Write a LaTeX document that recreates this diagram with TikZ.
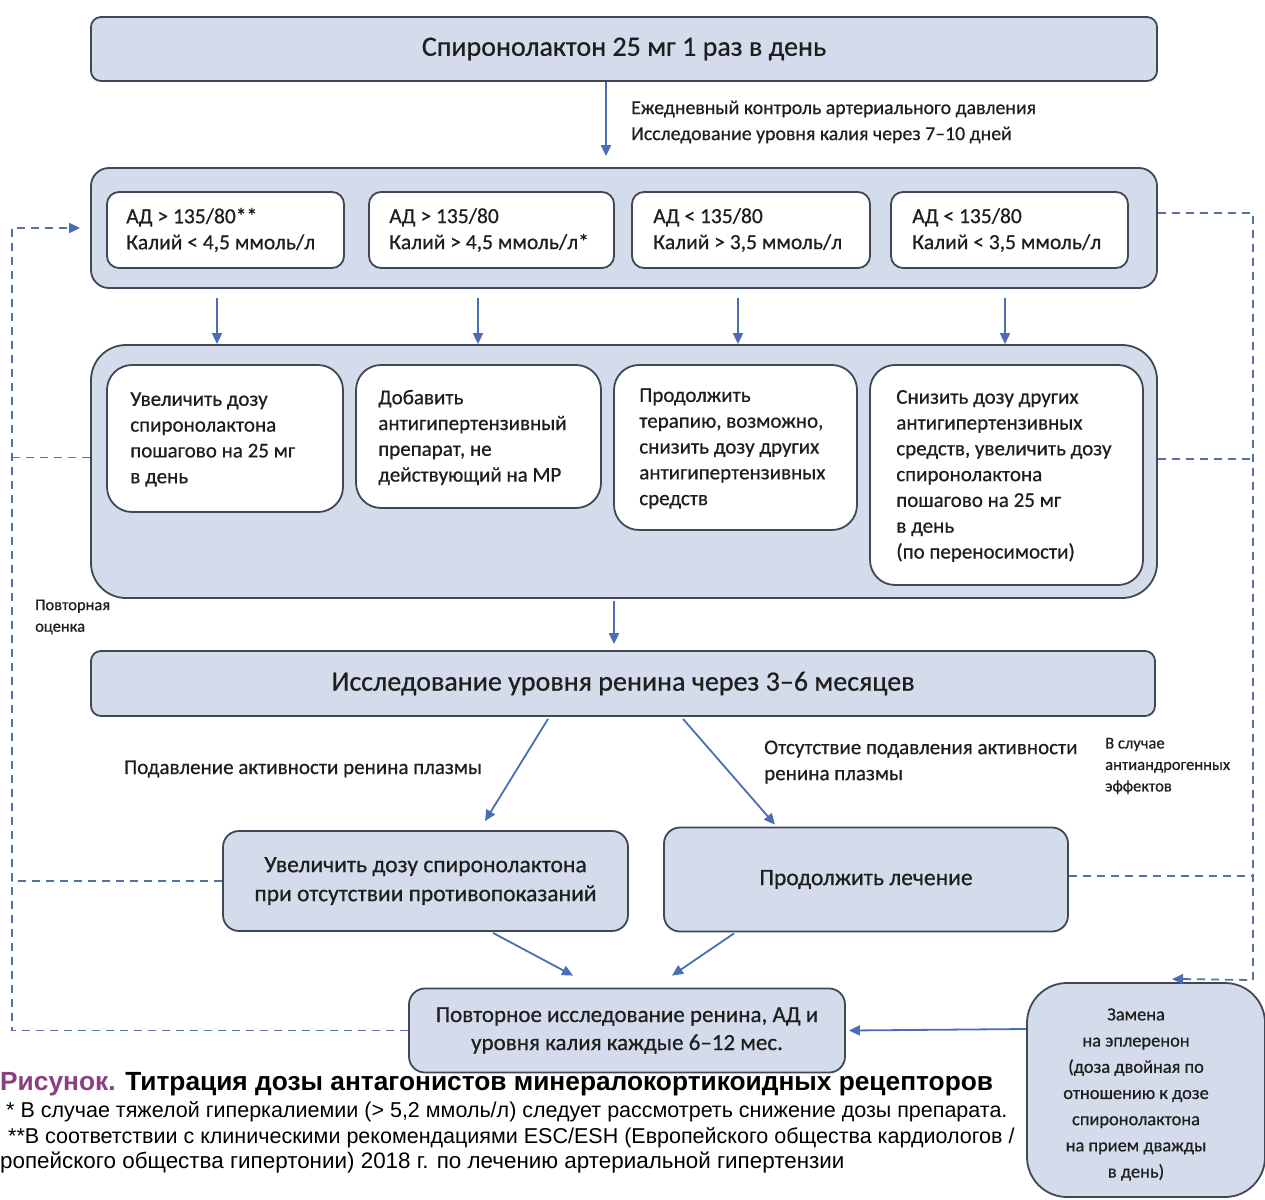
\documentclass[tikz,border=0pt]{standalone}
\usepackage{fontspec}
\setmainfont{Carlito}[FakeBold=0.6]
\newfontfamily\capfont{Liberation Sans}
\usetikzlibrary{arrows.meta}
\definecolor{boxfill}{HTML}{D4DCEB}
\definecolor{edge}{HTML}{404858}
\definecolor{arrblue}{HTML}{4A6EB5}
\definecolor{dashblue}{HTML}{5472A8}
\definecolor{capurple}{HTML}{8A3F80}
\definecolor{txt}{HTML}{1E1E1E}
\begin{document}
\begin{tikzpicture}[x=1pt,y=-1pt,
  every node/.style={text=txt},
  bigbox/.style={draw=edge, fill=boxfill, line width=1.8pt, rounded corners=10pt, inner sep=0pt},
  whitebox/.style={draw=edge, fill=white, line width=1.8pt, inner sep=0pt},
  intext/.style={anchor=west, align=left, inner sep=0pt},
  midbox/.style={draw=edge, fill=boxfill, line width=1.8pt, rounded corners=16pt, inner sep=0pt, align=center},
  lbl/.style={anchor=west, align=left, inner sep=0pt, font=\fontsize{21}{26}\selectfont},
  small/.style={anchor=west, align=left, inner sep=0pt, font=\fontsize{16.5}{21.5}\selectfont},
  arr/.style={draw=arrblue, line width=1.8pt, -{Triangle[length=11pt,width=10pt]}},
  dsh/.style={draw=dashblue, line width=1.8pt, dash pattern=on 8pt off 6pt},
]
\useasboundingbox (0,0) rectangle (1265,1199);

% top
\node[bigbox, minimum width=1066pt, minimum height=64pt, font=\fontsize{28}{32}\selectfont] (top) at (624,49) {Спиронолактон 25 мг 1 раз в день};
\node[lbl, font=\fontsize{19.8}{26}\selectfont] (lab1) at (631,122) {Ежедневный контроль артериального давления\\Исследование уровня калия через 7–10 дней};

% container 2
\node[bigbox, rounded corners=18pt, minimum width=1066pt, minimum height=120pt] (c2) at (624,228) {};
\begin{scope}[every node/.append style={font=\fontsize{21.5}{26}\selectfont}]
\node[whitebox, rounded corners=12pt, minimum width=237pt, minimum height=76pt] (r1a) at (225.5,230) {};
\node[intext] (r1at) at ([xshift=20pt]r1a.west) {АД > 135/80**\\Калий < 4,5 ммоль/л};
\node[whitebox, rounded corners=12pt, minimum width=245pt, minimum height=76pt] (r1b) at (491.5,230) {};
\node[intext] (r1bt) at ([xshift=21pt]r1b.west) {АД > 135/80\\Калий > 4,5 ммоль/л*};
\node[whitebox, rounded corners=12pt, minimum width=238pt, minimum height=76pt] (r1c) at (751,230) {};
\node[intext] (r1ct) at ([xshift=22pt]r1c.west) {АД < 135/80\\Калий > 3,5 ммоль/л};
\node[whitebox, rounded corners=12pt, minimum width=237pt, minimum height=76pt] (r1d) at (1009.5,230) {};
\node[intext] (r1dt) at ([xshift=22pt]r1d.west) {АД < 135/80\\Калий < 3,5 ммоль/л};
\end{scope}

% container 3
\node[bigbox, rounded corners=35pt, minimum width=1066pt, minimum height=253pt] (c3) at (624,471.5) {};
\begin{scope}[every node/.append style={font=\fontsize{21}{25.8}\selectfont}]
\node[whitebox, rounded corners=25pt, minimum width=236pt, minimum height=147pt] (r2a) at (225,438.5) {};
\node[intext] (r2at) at ([xshift=24pt,yshift=-1pt]r2a.west) {Увеличить дозу\\спиронолактона\\пошагово на 25 мг\\в день};
\node[whitebox, rounded corners=25pt, minimum width=245pt, minimum height=143pt] (r2b) at (478.5,436.5) {};
\node[intext] (r2bt) at ([xshift=23pt,yshift=-1pt]r2b.west) {Добавить\\антигипертензивный\\препарат, не\\действующий на МР};
\node[whitebox, rounded corners=25pt, minimum width=243pt, minimum height=165pt] (r2c) at (735.5,447.5) {};
\node[intext] (r2ct) at ([xshift=26pt,yshift=-1pt]r2c.west) {Продолжить\\терапию, возможно,\\снизить дозу других\\антигипертензивных\\средств};
\node[whitebox, rounded corners=25pt, minimum width=273pt, minimum height=220pt] (r2d) at (1006.5,475) {};
\node[intext] (r2dt) at ([xshift=27pt,yshift=-1pt]r2d.west) {Снизить дозу других\\антигипертензивных\\средств, увеличить дозу\\спиронолактона\\пошагово на 25 мг\\в день\\(по переносимости)};
\end{scope}

\node[small] (povt) at (35,617) {Повторная\\оценка};

% renin
\node[bigbox, minimum width=1064pt, minimum height=65pt, font=\fontsize{28}{32}\selectfont] (ren) at (623,683.5) {Исследование уровня ренина через 3–6 месяцев};
\node[lbl] (lab2) at (124,769) {Подавление активности ренина плазмы};
\node[lbl] (lab3) at (764,762) {Отсутствие подавления активности\\ренина плазмы};
\node[small] (lab4) at (1105,766) {В случае\\антиандрогенных\\эффектов};

\node[midbox, minimum width=405pt, minimum height=100pt, font=\fontsize{23.5}{29}\selectfont] (uv) at (425.5,881) {Увеличить дозу спиронолактона\\при отсутствии противопоказаний};
\node[midbox, minimum width=404pt, minimum height=104pt, font=\fontsize{23.5}{29}\selectfont] (pl) at (866,879.5) {Продолжить лечение};

\node[midbox, minimum width=436pt, minimum height=84pt, font=\fontsize{23}{28}\selectfont] (pov) at (627,1030.5) {Повторное исследование ренина, АД и\\уровня калия каждые 6–12 мес.};
\node[midbox, rounded corners=40pt, minimum width=238pt, minimum height=214pt] (zam) at (1146,1090) {};
\node[align=center, inner sep=0pt, font=\fontsize{18.4}{26.2}\selectfont] (zamt) at (1136,1094.5) {Замена\\на эплеренон\\(доза двойная по\\отношению к дозе\\спиронолактона\\на прием дважды\\в день)};

% solid arrows
\draw[arr] ([xshift=-18pt]top.south) -- ([xshift=-18pt,yshift=11pt]c2.north);
\foreach \dx in {-407,-146,114,381}
  \draw[arr] ([xshift=\dx pt,yshift=-9pt]c2.south) -- ([xshift=\dx pt]c3.north);
\draw[arr] ([xshift=-10pt,yshift=-2pt]c3.south) -- ([xshift=-9pt,yshift=6pt]ren.north);
\draw[arr] ([xshift=-75pt,yshift=-2pt]ren.south) -- ([xshift=59.5pt,yshift=9pt]uv.north);
\draw[arr] ([xshift=60pt,yshift=-2pt]ren.south) -- ([xshift=-91pt,yshift=2pt]pl.north);
\draw[arr] ([xshift=67.5pt,yshift=-1pt]uv.south) -- ([xshift=-54pt,yshift=12pt]pov.north);
\draw[arr] ([xshift=-132pt,yshift=-1pt]pl.south) -- ([xshift=45pt,yshift=12pt]pov.north);
\draw[arr] ([yshift=61pt]zam.west) -- ([xshift=3pt]pov.east);

% dashed loops
\coordinate (Lbot) at (12,1030.5);
\coordinate (Ltop) at (12,228);
\coordinate (Rtop) at (1253,213);
\coordinate (Rbot) at (1253,980);
\draw[dsh] (pov.west) -- (Lbot) -- (Ltop) -- ([xshift=-14pt]c2.west);
\draw[arrblue, line width=1.8pt, -{Triangle[length=11pt,width=10pt]}] ([xshift=-16pt]c2.west) -- ([xshift=-10pt]c2.west);
\draw[dsh] ([yshift=14pt]c3.west) -- ++(-79pt,0);
\draw[dsh] (uv.west) -- (uv.west -| Lbot);
\draw[dsh] ([yshift=15pt]c2.east) -- (Rtop) -- (Rbot) -- ([xshift=40pt,yshift=3pt]zam.north);
\draw[arrblue, line width=1.8pt, -{Triangle[length=11pt,width=10pt]}] ([xshift=42pt,yshift=3pt]zam.north) -- ([xshift=26pt,yshift=3pt]zam.north);
\draw[dsh] ([yshift=12.5pt]c3.east) -- ++(96pt,0);
\draw[dsh] ([yshift=3.5pt]pl.east) -- ++(185pt,0);

% caption
\node[anchor=west, inner sep=0pt, font=\capfont\bfseries\fontsize{26.3}{30}\selectfont, text=black] (title) at (0,1084) {{\color{capurple}Рисунок.} Титрация дозы антагонистов минералокортикоидных рецепторов};
\node[anchor=west, inner sep=0pt, font=\capfont\fontsize{21.5}{24}\selectfont, text=black] (n1) at (4,1112) {\hspace{2pt}* В случае тяжелой гиперкалиемии (> 5,2 ммоль/л) следует рассмотреть снижение дозы препарата.};
\node[anchor=west, inner sep=0pt, font=\capfont\fontsize{21.5}{24}\selectfont, text=black] (n2) at (4,1138) {\hspace{4pt}**В соответствии с клиническими рекомендациями ESC/ESH (Европейского общества кардиологов /};
\node[anchor=west, inner sep=0pt, font=\capfont\fontsize{22.4}{24}\selectfont, text=black] (n3) at (0,1162) {ропейского общества гипертонии) 2018 г. по лечению артериальной гипертензии};
\end{tikzpicture}
\end{document}
